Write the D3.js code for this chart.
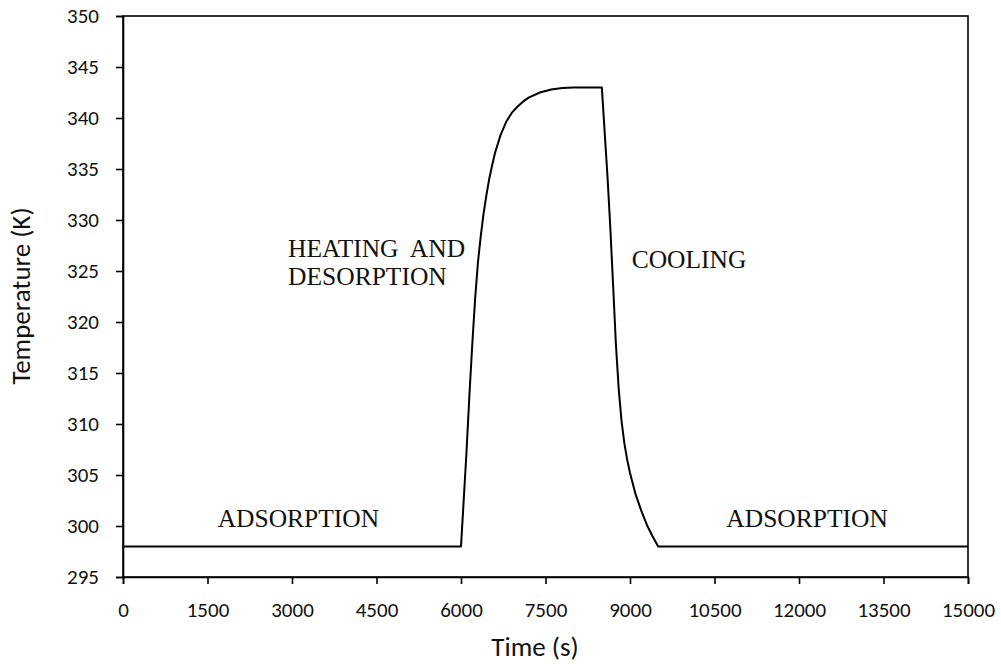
<!DOCTYPE html>
<html>
<head>
<meta charset="utf-8">
<script src="https://cdn.jsdelivr.net/npm/d3@7"></script>
<style>
  html, body { margin: 0; padding: 0; background: #fff; }
  svg { display: block; }
  .tick-label { font-family: Calibri, Carlito, Lato, "Open Sans", sans-serif; font-size: 21px; fill: #111; }
  .axis-title { font-family: Calibri, Carlito, Lato, "Open Sans", sans-serif; font-size: 27px; fill: #111; }
  .phase { font-family: "Times New Roman", "Liberation Serif", serif; font-size: 25.5px; fill: #111; }
</style>
</head>
<body>
<svg id="chart" width="1001" height="664"></svg>
<script>
// Bed temperature over one adsorption / desorption cycle
const time = [0, 6000, 6050, 6100, 6150, 6200, 6250, 6300, 6350, 6400, 6450, 6500, 6550, 6600,
  6700, 6800, 6900, 7000, 7100, 7200, 7400, 7600, 7800, 8000, 8500,
  8600, 8650, 8700, 8750, 8800, 8850, 8900, 8950, 9000, 9100, 9200, 9300, 9400, 9500, 15000];
const temperature = [298, 298, 302.7, 307.5, 312.9, 317.8, 322.2, 325.8, 328.4, 330.6, 332.4, 334.0, 335.3, 336.5,
  338.3, 339.6, 340.5, 341.1, 341.6, 342.0, 342.5, 342.8, 342.95, 343.0, 343.0,
  334.3, 329.3, 323.6, 317.8, 313.4, 310.3, 308.1, 306.5, 305.2, 303.1, 301.5, 300.1, 299.0, 298.0, 298.0];

const xTicks = [0, 1500, 3000, 4500, 6000, 7500, 9000, 10500, 12000, 13500, 15000];
const yTicks = [295, 300, 305, 310, 315, 320, 325, 330, 335, 340, 345, 350];

// Phase annotations: text lines, time, temperature
const phaseLabels = [
  { lines: ["ADSORPTION"], t: 1680, T: 299.9 },
  { lines: ["HEATING  AND", "DESORPTION"], t: 2930, T: 326.35 },
  { lines: ["COOLING"], t: 9030, T: 325.25 },
  { lines: ["ADSORPTION"], t: 10710, T: 299.9 }
];

const svg = d3.select("#chart");
const plotLeft = 123, plotRight = 968, plotTop = 16, plotBottom = 577;

const x = d3.scaleLinear().domain([0, 15000]).range([plotLeft, plotRight]);
const y = d3.scaleLinear().domain([295, 350]).range([plotBottom, plotTop]);

// plot frame
svg.append("rect")
  .attr("x", plotLeft).attr("y", plotTop)
  .attr("width", plotRight - plotLeft).attr("height", plotBottom - plotTop)
  .attr("fill", "none").attr("stroke", "#000").attr("stroke-width", 1.6);

// axes
const xAxis = d3.axisBottom(x).tickValues(xTicks).tickSize(7).tickPadding(18).tickFormat(d3.format("d"));
const yAxis = d3.axisLeft(y).tickValues(yTicks).tickSize(7).tickPadding(17).tickFormat(d3.format("d"));

const gx = svg.append("g").attr("transform", `translate(0,${plotBottom})`).call(xAxis);
const gy = svg.append("g").attr("transform", `translate(${plotLeft},0)`).call(yAxis);

[gx, gy].forEach(g => {
  g.attr("font-family", null).attr("font-size", null);
  g.select(".domain").attr("stroke", "#000").attr("stroke-width", 1.6);
  g.selectAll(".tick line").attr("stroke", "#000").attr("stroke-width", 1.6);
  g.selectAll(".tick text").attr("class", "tick-label").attr("fill", null);
});

// temperature curve
const line = d3.line()
  .x((d, i) => x(time[i]))
  .y(d => y(d))
  .curve(d3.curveLinear);

svg.append("path")
  .datum(temperature)
  .attr("d", line)
  .attr("fill", "none")
  .attr("stroke", "#000")
  .attr("stroke-width", 2)
  .attr("stroke-linejoin", "round");

// phase labels
phaseLabels.forEach(p => {
  const txt = svg.append("text")
    .attr("class", "phase")
    .attr("x", x(p.t))
    .attr("y", y(p.T))
    .style("white-space", "pre");
  p.lines.forEach((s, i) => {
    txt.append("tspan")
      .attr("x", x(p.t))
      .attr("dy", i === 0 ? 0 : 28)
      .text(s);
  });
});

// axis titles
svg.append("text")
  .attr("class", "axis-title")
  .attr("x", 535).attr("y", 656)
  .attr("text-anchor", "middle")
  .text("Time (s)");

svg.append("text")
  .attr("class", "axis-title")
  .attr("transform", "translate(30,296) rotate(-90)")
  .attr("text-anchor", "middle")
  .text("Temperature (K)");
</script>
</body>
</html>
